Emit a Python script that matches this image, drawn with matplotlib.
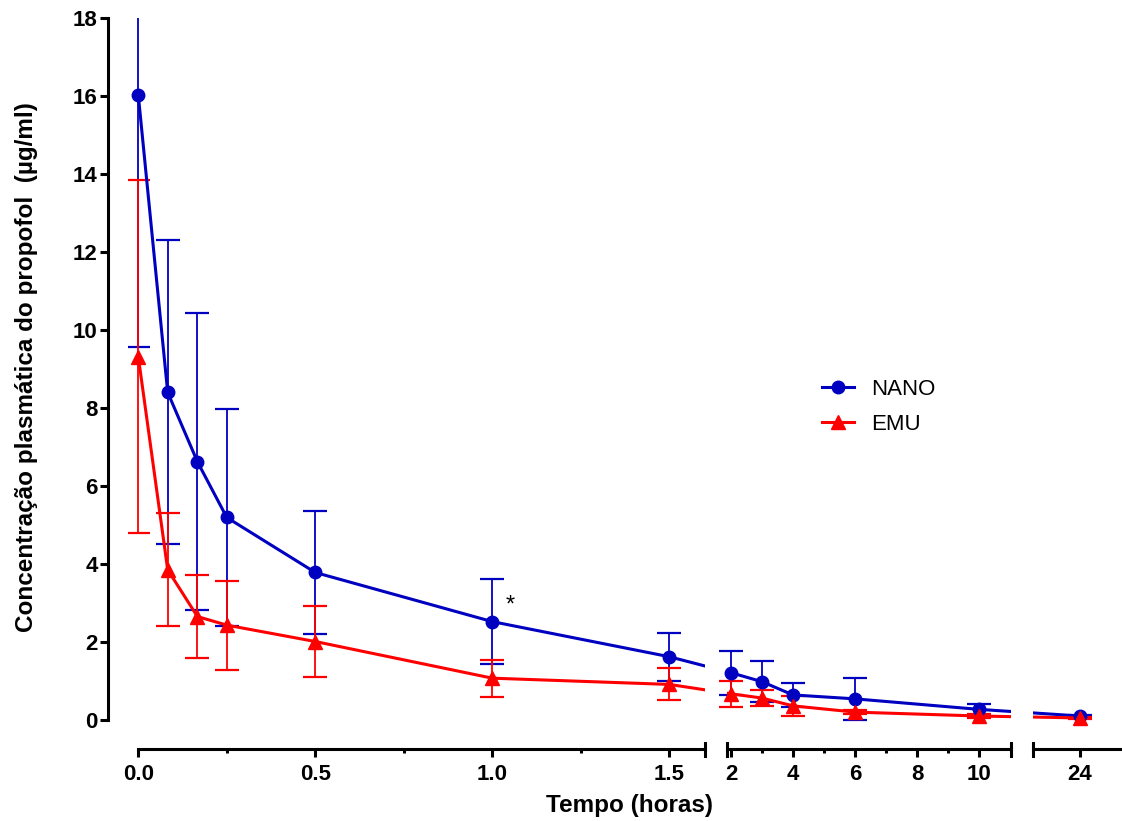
import matplotlib
matplotlib.use("Agg")
import matplotlib.pyplot as plt
import numpy as np
from matplotlib.transforms import blended_transform_factory
from matplotlib.lines import Line2D

plt.rcParams['font.family'] = ['Liberation Sans', 'DejaVu Sans']

# ---- data ----
time_h = [0, 0.083, 0.167, 0.25, 0.5, 1.0, 1.5, 2, 3, 4, 6, 10, 24]
nano_mean = [16.03, 8.41, 6.63, 5.20, 3.79, 2.53, 1.63, 1.22, 0.99, 0.65, 0.55, 0.28, 0.11]
nano_sd = [6.45, 3.90, 3.81, 2.78, 1.58, 1.09, 0.61, 0.56, 0.53, 0.31, 0.53, 0.14, 0.03]
emu_mean = [9.32, 3.86, 2.66, 2.44, 2.02, 1.08, 0.92, 0.68, 0.57, 0.37, 0.21, 0.11, 0.06]
emu_sd = [4.53, 1.45, 1.07, 1.14, 0.92, 0.47, 0.41, 0.34, 0.21, 0.25, 0.05, 0.04, 0.02]
series_names = ["NANO", "EMU"]
y_ticks = [0, 2, 4, 6, 8, 10, 12, 14, 16, 18]
seg1_ticks = [0.0, 0.5, 1.0, 1.5]
seg1_minor = [0.25, 0.75, 1.25]
seg2_ticks = [2, 4, 6, 8, 10]
seg2_minor = [3, 5, 7, 9]
seg3_ticks = [24]

BLUE = "#0000C0"
RED = "#FF0000"

W, H = 1122, 821
fig = plt.figure(figsize=(W / 100, H / 100), dpi=100)

# broken time axis: piecewise-linear scale (hours -> layout units)
seg_limits = [(-0.03, 1.6), (1.871, 11.03), (22.48, 25.35)]
knot_t = np.array([-10.0, 1.6, 1.871, 11.03, 22.48, 100.0])
knot_u = np.array([138.3 - 3540.0, 704.7, 727.0, 1011.0, 1033.0, 1080.0 + 31.0 * 76])

def fwd(x):
    return np.interp(x, knot_t, knot_u)

def inv(u):
    return np.interp(u, knot_u, knot_t)

def px_axes(l, r, t, b):
    return fig.add_axes([l / W, 1 - b / H, (r - l) / W, (b - t) / H])

y_top_px, y_bot_px = 18.3, 732.0
axes = []
for lo, hi in seg_limits:
    l, r = float(fwd(lo)), float(fwd(hi))
    axes.append(px_axes(l, r, y_top_px, y_bot_px))
ax1, ax2, ax3 = axes
bounds_list = [(0, 1.6), seg_limits[1], seg_limits[2]]

t = np.array(time_h)
series = [(np.array(nano_mean), np.array(nano_sd), BLUE, 'o', 9.0),
          (np.array(emu_mean), np.array(emu_sd), RED, '^', 10.0)]

spine_lw = 2.2
for i, ax in enumerate(axes):
    xl = seg_limits[i]
    ax.set_xscale('function', functions=(fwd, inv))
    ax.set_xlim(*xl)
    ax.set_ylim(-0.3, 18)
    for s in ['top', 'right']:
        ax.spines[s].set_visible(False)
    ax.spines['bottom'].set_position(('outward', 12.2))
    ax.spines['bottom'].set_bounds(*bounds_list[i])
    ax.spines['bottom'].set_linewidth(spine_lw)
    if i == 0:
        ax.spines['left'].set_position(('outward', 14.2))
        ax.spines['left'].set_bounds(0, 18)
        ax.spines['left'].set_linewidth(spine_lw)
        ax.set_yticks(y_ticks)
        ax.set_yticklabels([str(v) for v in y_ticks], fontsize=16, fontweight='bold')
        ax.tick_params(axis='y', length=6, width=spine_lw, pad=1.5)
    else:
        ax.spines['left'].set_visible(False)
        ax.set_yticks([])
    ax.patch.set_visible(False)

    mask = (t >= xl[0]) & (t <= xl[1])
    clip = (i == 0)
    for mean, sd, col, mk, ms in series:
        ax.plot(t, mean, color=col, lw=2.2, zorder=3)
        ax.errorbar(t[mask], mean[mask], yerr=sd[mask], fmt='none', ecolor=col,
                    elinewidth=1.3, capsize=8.5, capthick=1.6, zorder=2, clip_on=clip)
        ax.plot(t[mask], mean[mask], ls='none', marker=mk, ms=ms, color=col,
                clip_on=False, zorder=4)

ax1.set_xticks(seg1_ticks)
ax1.set_xticklabels(["%.1f" % v for v in seg1_ticks])
ax1.set_xticks(seg1_minor, minor=True)
ax2.set_xticks(seg2_ticks)
ax2.set_xticklabels([str(v) for v in seg2_ticks])
ax2.set_xticks(seg2_minor, minor=True)
ax3.set_xticks(seg3_ticks)
ax3.set_xticklabels([str(v) for v in seg3_ticks])
ax3.set_xticks([], minor=True)
for ax in axes:
    ax.tick_params(axis='x', which='major', length=6, width=spine_lw, pad=5,
                   labelsize=16)
    ax.tick_params(axis='x', which='minor', length=3, width=spine_lw)
    for lab in ax.get_xticklabels():
        lab.set_fontweight('bold')

# segment end caps on the broken x axis
cap_y = (1 - (749 - 6) / H, 1 - (749 + 7) / H)
for ax, xs in [(ax1, [1.6]), (ax2, [1.871, 11.03]), (ax3, [22.48])]:
    tr = blended_transform_factory(ax.transData, fig.transFigure)
    for xv in xs:
        ax.add_line(Line2D([xv, xv], list(cap_y), transform=tr, color='black',
                           lw=spine_lw, clip_on=False))

# significance mark
ax1.text(1.05, 2.93, "*", fontsize=17, ha='center', va='center')

# axis labels
fig.text(630 / W, 1 - 812 / H, "Tempo (horas)", ha='center', va='baseline',
         fontsize=17.5, fontweight='bold')
fig.text(27 / W, 1 - 367 / H, "Concentração plasmática do propofol  (µg/ml)",
         rotation=90, ha='center', va='center', fontsize=17.5, fontweight='bold')

# legend
handles = [Line2D([], [], color=BLUE, lw=2.2, marker='o', ms=9.0),
           Line2D([], [], color=RED, lw=2.2, marker='^', ms=10.0)]
fig.legend(handles, series_names, loc='upper left',
           bbox_to_anchor=(822 / W, 1 - 379 / H), frameon=False, fontsize=16,
           handlelength=1.45, handletextpad=0.75, labelspacing=0.62,
           borderpad=0, borderaxespad=0)

fig.savefig("out.png", dpi=100)
